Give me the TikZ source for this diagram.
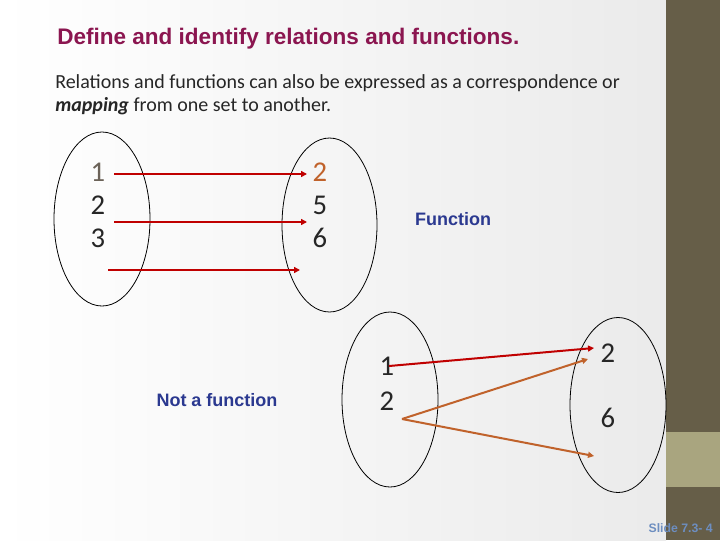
\documentclass[tikz,border=0pt]{standalone}
\usepackage{fontspec}
\setmainfont{Carlito}
\newfontfamily\headfont{Liberation Sans}
\usetikzlibrary{arrows.meta}
\definecolor{slidetitle}{HTML}{8B1650}
\definecolor{maparrow}{HTML}{C00000}
\definecolor{maporange}{HTML}{C0622B}
\definecolor{sidebar}{HTML}{665E48}
\definecolor{sideband}{HTML}{A9A57F}
\definecolor{labelblue}{HTML}{2B3990}
\definecolor{slideblue}{HTML}{6D8EC0}
\definecolor{numgray}{HTML}{6B6258}
\tikzset{
	setline/.style={draw=black, line width=0.6pt},
	elem/.style={font=\fontsize{21.5}{24}\selectfont, text=black!85, inner sep=1pt},
	maps/.style={draw=maparrow, line width=1.5pt, -{Triangle[length=4.5pt,width=4.5pt]}},
	mapsorange/.style={maps, draw=maporange},
	tag/.style={font=\headfont\bfseries\fontsize{13.5}{16}\selectfont, text=labelblue}
}
\begin{document}
\begin{tikzpicture}[x=0.75pt, y=-0.75pt]
	\useasboundingbox (0,0) rectangle (720,540);
	\shade[left color=white, right color=black!8] (0,0) rectangle (666,540);
	\fill[sidebar] (666,0) rectangle (720,540);
	\fill[sideband] (666,432) rectangle (720,487);
	\node[anchor=base west, inner sep=0pt, text=slidetitle,
		font=\headfont\bfseries\fontsize{16.9}{20}\selectfont] (title) at (57,44)
		{Define and identify relations and functions.};
	\node[anchor=base west, inner sep=0pt, text=black!85,
		font=\fontsize{15}{17.25}\selectfont, align=left] (intro) at (55,111)
		{Relations and functions can also be expressed as a correspondence or\\
		\textbf{\textit{mapping}} from one set to another.};
	% first relation
	\draw[setline] (102,219) ellipse [x radius=48, y radius=87];
	\draw[setline] (329.5,225) ellipse [x radius=47.5, y radius=87];
	\node[elem, text=numgray] (a1) at (98,172) {1};
	\node[elem] (a2) at (98,205) {2};
	\node[elem] (a3) at (98,238) {3};
	\node[elem, text=maporange] (b2) at (320,172) {2};
	\node[elem] (b5) at (320,205) {5};
	\node[elem] (b6) at (320,238) {6};
	\coordinate (s1) at (114,174);
	\coordinate (e1) at (307,174);
	\coordinate (s2) at (114,222);
	\coordinate (e2) at (307,222);
	\coordinate (s3) at (108,270);
	\coordinate (e3) at (300,270);
	\draw[maps] (s1) -- (e1);
	\draw[maps] (s2) -- (e2);
	\draw[maps] (s3) -- (e3);
	\node[tag] (func) at (453,219) {Function};
	% second relation
	\draw[setline] (390,399.5) ellipse [x radius=48, y radius=87.5];
	\draw[setline] (618,405) ellipse [x radius=48, y radius=87.5];
	\node[elem] (c1) at (387,366) {1};
	\node[elem] (c2) at (387,401) {2};
	\node[elem] (d2) at (608,353) {2};
	\node[elem] (d6) at (608,418) {6};
	\coordinate (t1) at (389,366);
	\coordinate (u1) at (594,348);
	\coordinate (t2) at (402,419);
	\coordinate (u2) at (588,359);
	\coordinate (u3) at (594,456);
	\draw[maps] (t1) -- (u1);
	\draw[mapsorange] (t2) -- (u2);
	\draw[mapsorange] (t2) -- (u3);
	\node[tag] (nofunc) at (217,400) {Not a function};
	\node[anchor=base east, inner sep=0pt, text=slideblue,
		font=\headfont\bfseries\fontsize{9.2}{11}\selectfont] (slide) at (713,532)
		{Slide 7.3- 4};
\end{tikzpicture}
\end{document}
